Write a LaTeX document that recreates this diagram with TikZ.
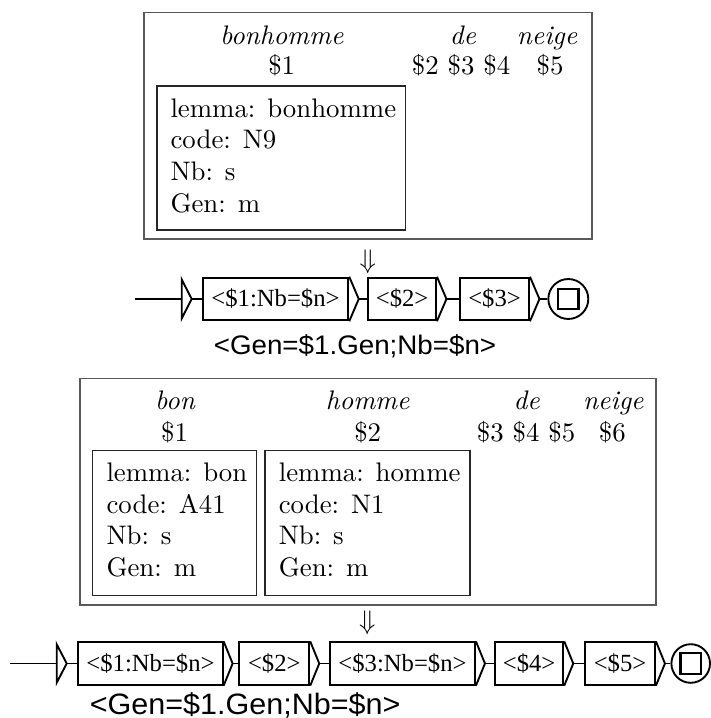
\documentclass[tikz,border=0pt]{standalone}
\usepackage{fontspec}
\newfontfamily\gserif{Liberation Serif}
\newfontfamily\gsans{Liberation Sans}
\usetikzlibrary{fit,calc}
\newcommand{\outlab}[1]{\scalebox{1.035}[1]{#1}}
\begin{document}
\begin{tikzpicture}[x=0.373pt,y=-0.373pt,
  frame/.style={draw=black!65,line width=0.45pt,inner sep=0pt},
  featbox/.style={draw=black!85,line width=0.45pt,inner sep=0pt},
  feattext/.style={anchor=base west,inner sep=0pt,font=\fontsize{10}{11.8}\selectfont},
  word/.style={anchor=base,inner sep=0pt,font=\itshape},
  var/.style={anchor=base,inner sep=0pt},
  gline/.style={line width=0.7pt},
  gbox/.style={draw,line width=0.7pt,inner sep=0pt,font=\gserif\fontsize{9.2}{10}\selectfont},
  gboxa/.style={gbox,minimum height=15.9pt},
  gboxb/.style={gbox,minimum height=15.8pt},
  gfinal/.style={draw,circle,line width=0.7pt,minimum size=14.9pt,inner sep=0pt},
  gsquare/.style={draw,line width=0.8pt,minimum size=7.6pt,inner sep=0pt},
  outlabel/.style={anchor=base west,inner sep=0pt},
  derive/.style={inner sep=0pt}]
\fill[white] (0,0) rectangle (710,718);
\useasboundingbox (0,0) rectangle (710,718);

% ---------- first analysis ----------
\node[frame,fit={(144,12.7) (592,239)}] (frame1) {};
\node[word] (w11) at (281.7,44.3) {bonhomme};
\node[var]  (v11) at (281.7,75) {\$1};
\node[word] (w12) at (463,44.3) {de};
\node[var]  (v12) at (461,75) {\$2 \$3 \$4};
\node[word] (w13) at (547,44.3) {neige};
\node[var]  (v13) at (550,75) {\$5};
\node[featbox,fit={(157,86) (405.7,230)}] (fb1) {};
\node[feattext] (ft1) at (170,117.3) {\begin{tabular}[t]{@{}l@{}}lemma: bonhomme\\code: N9\\Nb: s\\Gen: m\end{tabular}};

\node[derive] (d1) at (367.7,261.7) {$\Downarrow$};

% ---------- first graph ----------
\coordinate (s1) at (135,299);
\coordinate (i1) at (181.7,299);
\coordinate (i1t) at (191.7,299);
\draw[gline] (s1) -- (i1);
\draw[gline] (i1) -- ($(i1)+(0,-19.5)$) -- (i1t) -- ($(i1)+(0,19.5)$) -- cycle;
\node[gboxa,minimum width=54.31pt] (b11) at (275.5,299) {<\$1:Nb=\$n>};
\node[gboxa,minimum width=25.25pt] (b12) at (402.15,299) {<\$2>};
\node[gboxa,minimum width=25.74pt] (b13) at (494.5,299) {<\$3>};
\node[gfinal] (f1) at (568.3,299) {};
\node[gsquare] (q1) at (f1) {};
\foreach \b in {b11,b12,b13}{
  \draw[gline] (\b.north east) -- ($(\b.east)+(9.5,0)$) coordinate (\b t) -- (\b.south east);
}
\draw[gline] (i1t) -- (b11);
\draw[gline] (b11t) -- (b12);
\draw[gline] (b12t) -- (b13);
\draw[gline] (b13t) -- (f1);
\node[outlabel] (o1) at (213.3,355) {\gsans\fontsize{10}{11}\selectfont\outlab{<Gen=\$1.Gen;Nb=\$n>}};

% ---------- second analysis ----------
\node[frame,fit={(80,378.3) (656,605)}] (frame2) {};
\node[word] (w21) at (175,409.3) {bon};
\node[var]  (v21) at (174.5,441.7) {\$1};
\node[word] (w22) at (367.7,409.3) {homme};
\node[var]  (v22) at (367.7,441.7) {\$2};
\node[word] (w23) at (526.7,409.3) {de};
\node[var]  (v23) at (526,441.7) {\$3 \$4 \$5};
\node[word] (w24) at (613.3,409.3) {neige};
\node[var]  (v24) at (612.3,441.7) {\$6};
\node[featbox,fit={(92.7,450.7) (256.7,595.7)}] (fb2) {};
\node[feattext] (ft2) at (106,481.7) {\begin{tabular}[t]{@{}l@{}}lemma: bon\\code: A41\\Nb: s\\Gen: m\end{tabular}};
\node[featbox,fit={(265,450.7) (470,595.7)}] (fb3) {};
\node[feattext] (ft3) at (278.3,481.7) {\begin{tabular}[t]{@{}l@{}}lemma: homme\\code: N1\\Nb: s\\Gen: m\end{tabular}};

\node[derive] (d2) at (367.3,622.5) {$\Downarrow$};

% ---------- second graph ----------
\coordinate (s2) at (10,663.5);
\coordinate (i2) at (56.7,663.5);
\coordinate (i2t) at (66.7,663.5);
\draw[gline] (s2) -- (i2);
\draw[gline] (i2) -- ($(i2)+(0,-19.2)$) -- (i2t) -- ($(i2)+(0,19.2)$) -- cycle;
\node[gboxb,minimum width=53.86pt] (b21) at (150.5,663.5) {<\$1:Nb=\$n>};
\node[gboxb,minimum width=26.11pt] (b22) at (274.3,663.5) {<\$2>};
\node[gboxb,minimum width=54.09pt] (b23) at (402.5,663.5) {<\$3:Nb=\$n>};
\node[gboxb,minimum width=25.48pt] (b24) at (529.15,663.5) {<\$4>};
\node[gboxb,minimum width=26.11pt] (b25) at (620,663.5) {<\$5>};
\node[gfinal,minimum size=14.4pt] (f2) at (690.7,663.5) {};
\node[gsquare] (q2) at (f2) {};
\foreach \b in {b21,b22,b23,b24,b25}{
  \draw[gline] (\b.north east) -- ($(\b.east)+(9,0)$) coordinate (\b t) -- (\b.south east);
}
\draw[gline] (i2t) -- (b21);
\draw[gline] (b21t) -- (b22);
\draw[gline] (b22t) -- (b23);
\draw[gline] (b23t) -- (b24);
\draw[gline] (b24t) -- (b25);
\draw[gline] (b25t) -- (f2);
\node[outlabel] (o2) at (89.3,714.7) {\gsans\fontsize{11}{12}\selectfont\outlab{<Gen=\$1.Gen;Nb=\$n>}};
\end{tikzpicture}
\end{document}
